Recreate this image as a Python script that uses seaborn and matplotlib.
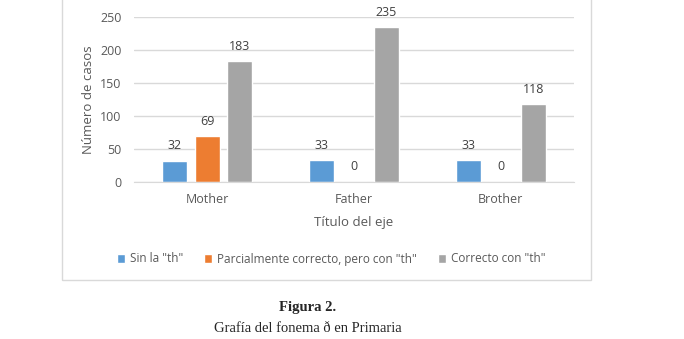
import matplotlib
matplotlib.use("Agg")
import matplotlib.pyplot as plt
import matplotlib.patches as mpatches
import seaborn as sns
import pandas as pd

categories = ["Mother", "Father", "Brother"]
series_names = ['Sin la "th"', 'Parcialmente correcto, pero con "th"', 'Correcto con "th"']
sin_th = [32, 33, 33]
parcial = [69, 0, 0]
correcto = [183, 235, 118]
colors = ["#5B9BD5", "#ED7D31", "#A5A5A5"]

rows = []
for name, vals in zip(series_names, [sin_th, parcial, correcto]):
    for c, v in zip(categories, vals):
        rows.append({"cat": c, "serie": name, "val": v})
df = pd.DataFrame(rows)

sns.set_style("white")
plt.rcParams['font.family'] = ['Open Sans', 'DejaVu Sans']

fig = plt.figure(figsize=(6.84, 3.39), dpi=100)
ax = fig.add_axes([134/684, 1-181.7/339, 440/684, (181.7-17)/339])

sns.barplot(data=df, x="cat", y="val", hue="serie", order=categories,
            hue_order=series_names, palette=colors, width=0.665, gap=0.23,
            saturation=1, ax=ax, legend=True)

ax.set_ylim(0, 250)
ax.set_xlim(-0.5, 2.5)
ax.set_yticks([0, 50, 100, 150, 200, 250])
ax.yaxis.grid(True, color="#d9d9d9", linewidth=1)
ax.set_axisbelow(True)
for s in ["top", "right", "left"]:
    ax.spines[s].set_visible(False)
ax.spines["bottom"].set_color("#d9d9d9")
ax.tick_params(axis="both", length=0, labelsize=9, colors="#595959")
ax.tick_params(axis="y", pad=9)
ax.tick_params(axis="x", pad=8)
ax.set_xlabel("Título del eje", fontsize=9.5, color="#595959", labelpad=7)
ax.set_ylabel("Número de casos", fontsize=9.5, color="#595959", labelpad=4)

for cont in ax.containers:
    ax.bar_label(cont, padding=6, fontsize=9, color="#404040")

handles, labels = ax.get_legend_handles_labels()
ax.legend(handles, labels, loc="center", bbox_to_anchor=(331/684, 1-259/339),
          bbox_transform=fig.transFigure, ncol=3, frameon=False, fontsize=8.5,
          handlelength=0.7, handleheight=0.7, handletextpad=0.4, columnspacing=1.8,
          labelcolor="#595959")

frame = mpatches.Rectangle((62/684, 1-280/339), (591-62)/684, 280/339 + 0.05,
                           transform=fig.transFigure, fill=False,
                           edgecolor="#d9d9d9", linewidth=1)
fig.patches.append(frame)

fig.text(308/684, 1-307/339, "Figura 2.", ha="center", va="center",
         fontsize=10.5, fontweight="bold", family=["Liberation Serif"])
fig.text(308/684, 1-328/339, "Grafía del fonema ð en Primaria", ha="center",
         va="center", fontsize=10.5, family=["Liberation Serif"])

fig.savefig("out.png", dpi=100)
